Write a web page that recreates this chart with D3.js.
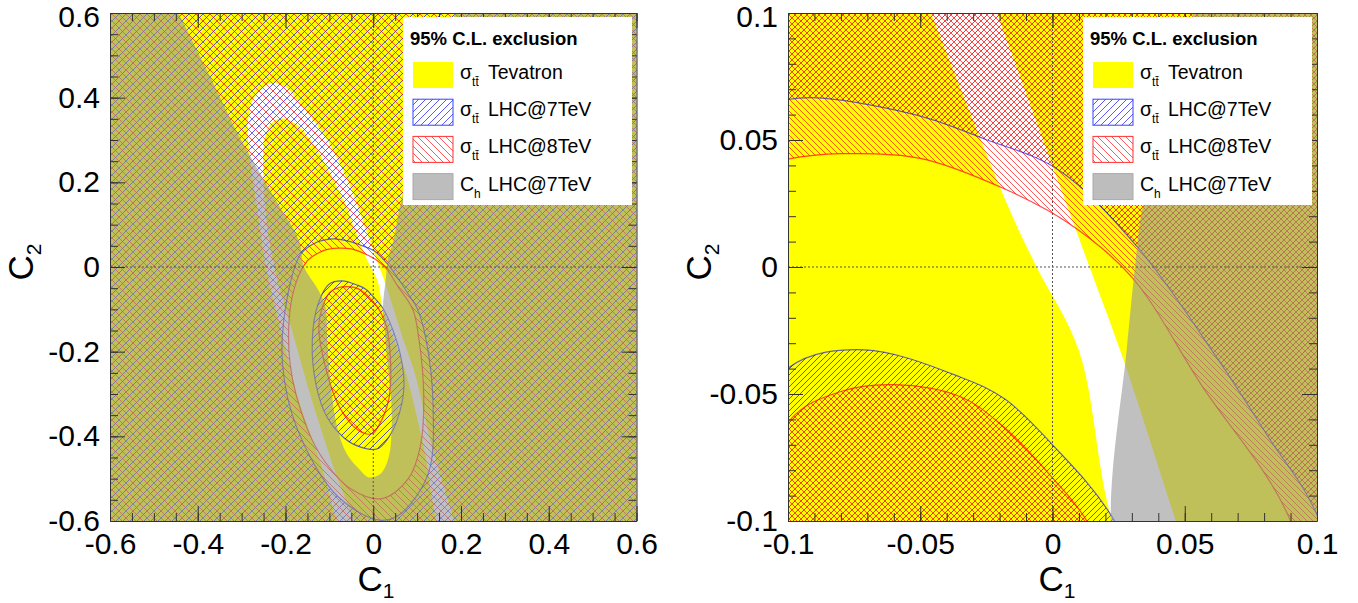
<!DOCTYPE html>
<html>
<head>
<meta charset="utf-8">
<script src="https://cdn.jsdelivr.net/npm/d3@7"></script>
<style>
body { margin: 0; background: #fff; }
text { font-family: "Liberation Sans", Arial, Helvetica, sans-serif; }
</style>
</head>
<body>
<svg id="chart" width="1358" height="603"></svg>
<script>
// ---- data (all points are [C1, C2]) ----

// axis ranges and ticks for the two panels
const domains = [[-0.6, 0.6], [-0.1, 0.1]];
const majorTicks = [[-0.6, -0.4, -0.2, 0, 0.2, 0.4, 0.6], [-0.1, -0.05, 0, 0.05, 0.1]];
const tickLabels = [["-0.6", "-0.4", "-0.2", "0", "0.2", "0.4", "0.6"], ["-0.1", "-0.05", "0", "0.05", "0.1"]];
const minorTicks = [d3.range(-12, 13).map(k => k * 0.05), d3.range(-10, 11).map(k => k * 0.01)];

// Tevatron allowed band (everything else is excluded -> yellow)
const tevatronBand = [
  [-0.056, -0.66], [-0.121, -0.46], [-0.173, -0.304], [-0.210, -0.150],
  [-0.241, -0.017], [-0.263, 0.126], [-0.282, 0.268], [-0.286, 0.339],
  [-0.272, 0.400], [-0.234, 0.434], [-0.200, 0.425], [-0.173, 0.394],
  [-0.105, 0.300], [-0.052, 0.189], [-0.021, 0.100], [0.014, 0.000],
  [0.026, -0.034], [0.046, -0.098], [0.068, -0.170], [0.095, -0.252],
  [0.130, -0.410], [0.189, -0.66],
  [0.165, -0.66], [0.112, -0.410], [0.074, -0.250], [0.045, -0.165],
  [0.022, -0.098], [0.010, -0.033], [-0.006, 0.000], [-0.016, 0.022],
  [-0.046, 0.100], [-0.067, 0.157], [-0.143, 0.300], [-0.180, 0.340],
  [-0.211, 0.351], [-0.236, 0.335], [-0.248, 0.300], [-0.245, 0.126],
  [-0.222, -0.017], [-0.185, -0.150], [-0.143, -0.304], [-0.095, -0.46],
  [-0.033, -0.66]
];

// C_h LHC@7TeV allowed region (everything else is excluded -> grey)
const chAllowed = [
  [-0.515, 0.75], [-0.444, 0.600], [-0.372, 0.450], [-0.301, 0.300],
  [-0.226, 0.165], [-0.169, 0.062], [-0.158, 0.001], [-0.125, -0.055],
  [-0.109, -0.094], [-0.105, -0.173], [-0.097, -0.276], [-0.082, -0.379],
  [-0.060, -0.442], [-0.029, -0.481], [-0.011, -0.497], [0.016, -0.489],
  [0.035, -0.450], [0.042, -0.379], [0.041, -0.316], [0.035, -0.252],
  [0.028, -0.173], [0.022, -0.098], [0.028, -0.033], [0.032, 0.008],
  [0.034, 0.023], [0.046, 0.062], [0.062, 0.148], [0.105, 0.300],
  [0.186, 0.600], [0.226, 0.75]
];

// sigma_tt LHC@7TeV: allowed ring between these two contours
const lhc7Outer = [
  [-0.130, 0.058], [-0.100, 0.066], [-0.087, 0.0665], [-0.050, 0.0594],
  [-0.026, 0.0505], [0.002, 0.0384], [0.032, 0.008], [0.062, -0.0355],
  [0.081, -0.066], [0.100, -0.0975], [0.120, -0.170], [0.1365, -0.331],
  [0.125, -0.489], [0.061, -0.584], [0.015, -0.598], [-0.082, -0.541],
  [-0.173, -0.383], [-0.207, -0.225], [-0.195, -0.067], [-0.165, 0.031]
];
const lhc7Inner = [
  [-0.0712, -0.0326], [-0.0347, -0.0434], [-0.018, -0.052], [0.000, -0.070],
  [0.022, -0.0975], [0.045, -0.150], [0.063, -0.213], [0.070, -0.284],
  [0.054, -0.363], [0.030, -0.410], [0.008, -0.430], [-0.030, -0.425],
  [-0.065, -0.405], [-0.105, -0.355], [-0.130, -0.280], [-0.139, -0.173],
  [-0.125, -0.085], [-0.0995, -0.0395]
];

// sigma_tt LHC@8TeV
const lhc8Outer = [
  [-0.115, 0.038], [-0.100, 0.0425], [-0.080, 0.0446], [-0.050, 0.0428],
  [-0.018, 0.0307], [0.0064, 0.017], [0.030, -0.004], [0.056, -0.046],
  [0.090, -0.100], [0.104, -0.170], [0.115, -0.300], [0.108, -0.420],
  [0.080, -0.500], [0.020, -0.547], [-0.050, -0.525], [-0.110, -0.460],
  [-0.150, -0.383], [-0.190, -0.225], [-0.184, -0.067], [-0.150, 0.015]
];
const lhc8Inner = [
  [-0.0599, -0.0463], [-0.035, -0.051], [-0.0196, -0.0619], [0.000, -0.083],
  [0.013, -0.100], [0.030, -0.140], [0.038, -0.197], [0.040, -0.260],
  [0.035, -0.315], [0.015, -0.370], [-0.003, -0.394], [-0.035, -0.385],
  [-0.075, -0.335], [-0.105, -0.252], [-0.124, -0.1335], [-0.0995, -0.0606],
  [-0.080, -0.049]
];

// legend
const legendTitle = "95% C.L. exclusion";
const legendSymbols = ["σ", "σ", "σ", "C"];
const legendSubs = ["tt\u0304", "tt\u0304", "tt\u0304", "h"];
const legendLabels = ["Tevatron", "LHC@7TeV", "LHC@8TeV", "LHC@7TeV"];

// ---- layout ----
const panels = [
  { left: 110, right: 636.5, top: 13, bottom: 521, legendX: 403, hatch: 7, titleX: 376 },
  { left: 788, right: 1317, top: 13, bottom: 521, legendX: 1083, hatch: 6, titleX: 1057 }
];

const svg = d3.select("#chart");
const defs = svg.append("defs");

// hatch patterns: dir 1 = "///", dir -1 = "\\\"
function makeHatch(id, color, dir, s) {
  let d;
  if (dir > 0) d = `M0,${s} L${s},0 M-1,1 L1,-1 M${s - 1},${s + 1} L${s + 1},${s - 1}`;
  else d = `M0,0 L${s},${s} M-1,${s - 1} L1,${s + 1} M${s - 1},-1 L${s + 1},1`;
  defs.append("pattern")
    .attr("id", id)
    .attr("patternUnits", "userSpaceOnUse")
    .attr("width", s)
    .attr("height", s)
    .append("path")
    .attr("d", d)
    .attr("stroke", color)
    .attr("stroke-opacity", 0.65)
    .attr("stroke-width", 1)
    .attr("fill", "none");
}

panels.forEach((p, i) => {
  makeHatch("blue" + i, "#0000ff", 1, p.hatch);
  makeHatch("red" + i, "#ff0000", -1, p.hatch);
});

panels.forEach((p, i) => {
  let x = d3.scaleLinear().domain(domains[i]).range([p.left, p.right]);
  let y = d3.scaleLinear().domain(domains[i]).range([p.bottom, p.top]);

  defs.append("clipPath").attr("id", "clip" + i)
    .append("rect")
    .attr("x", p.left).attr("y", p.top)
    .attr("width", p.right - p.left).attr("height", p.bottom - p.top);

  let g = svg.append("g").attr("clip-path", `url(#clip${i})`);

  let smooth = d3.line()
    .x(d => x(d[0]))
    .y(d => y(d[1]))
    .curve(d3.curveCatmullRomClosed.alpha(0.5));

  // big rectangle, used to fill "everything outside" a contour
  let big = `M${p.left - 60},${p.top - 60}H${p.right + 60}V${p.bottom + 60}H${p.left - 60}Z`;

  // Tevatron exclusion: yellow with the allowed band cut out
  g.append("rect")
    .attr("x", p.left).attr("y", p.top)
    .attr("width", p.right - p.left).attr("height", p.bottom - p.top)
    .attr("fill", "#ffff00");
  g.append("path").attr("d", smooth(tevatronBand)).attr("fill", "#fff");

  // LHC exclusions: outside the outer contour and inside the inner one
  g.append("path").attr("d", big + smooth(lhc7Outer))
    .attr("fill-rule", "evenodd").attr("fill", `url(#blue${i})`);
  g.append("path").attr("d", smooth(lhc7Inner)).attr("fill", `url(#blue${i})`);
  g.append("path").attr("d", big + smooth(lhc8Outer))
    .attr("fill-rule", "evenodd").attr("fill", `url(#red${i})`);
  g.append("path").attr("d", smooth(lhc8Inner)).attr("fill", `url(#red${i})`);

  [lhc7Outer, lhc7Inner].forEach(c => {
    g.append("path").attr("d", smooth(c)).attr("fill", "none")
      .attr("stroke", "#0000ff").attr("stroke-opacity", 0.6).attr("stroke-width", 1.2);
  });
  [lhc8Outer, lhc8Inner].forEach(c => {
    g.append("path").attr("d", smooth(c)).attr("fill", "none")
      .attr("stroke", "#ff0000").attr("stroke-opacity", 0.7).attr("stroke-width", 1.2);
  });

  // C_h exclusion drawn on top, semi transparent grey
  g.append("path").attr("d", big + smooth(chAllowed))
    .attr("fill-rule", "evenodd")
    .attr("fill", "#969696").attr("fill-opacity", 0.6);

  // dotted zero lines
  g.append("line")
    .attr("x1", x(0)).attr("x2", x(0)).attr("y1", p.top).attr("y2", p.bottom)
    .attr("stroke", "#555").attr("stroke-dasharray", "2,2");
  g.append("line")
    .attr("x1", p.left).attr("x2", p.right).attr("y1", y(0)).attr("y2", y(0))
    .attr("stroke", "#555").attr("stroke-dasharray", "2,2");

  // axes: ticks on all four sides, pointing inwards
  const fmt = (d, k) => tickLabels[i][k];
  const makeAxes = () => [
    [d3.axisBottom(x), `translate(0,${p.bottom})`],
    [d3.axisTop(x), `translate(0,${p.top})`],
    [d3.axisLeft(y), `translate(${p.left},0)`],
    [d3.axisRight(y), `translate(${p.right},0)`]
  ];

  // minor ticks
  makeAxes().forEach(([ax, tr]) => {
    svg.append("g").attr("transform", tr)
      .call(ax.tickValues(minorTicks[i]).tickSize(-8).tickSizeOuter(0).tickFormat(""))
      .attr("color", "#333")
      .select(".domain").remove();
  });

  // major ticks, frame and labels (labels only bottom and left)
  makeAxes().forEach(([ax, tr], k) => {
    let labelled = (k === 0 || k === 2);
    let ag = svg.append("g").attr("transform", tr)
      .call(ax.tickValues(majorTicks[i]).tickSize(-15).tickSizeOuter(0)
        .tickPadding(k === 0 ? 12 : 10)
        .tickFormat(labelled ? fmt : ""))
      .attr("color", "#333")
      .attr("font-size", 30)
      .attr("font-family", "Liberation Sans, Arial, sans-serif");
    ag.selectAll("text").attr("fill", "#000");
    // keep the topmost y label inside the picture
    if (k === 2) {
      ag.selectAll(".tick text").filter(d => d === domains[i][1]).attr("dy", "0.45em");
    }
  });

  // axis titles
  let tx = svg.append("text")
    .attr("x", p.titleX).attr("y", 591)
    .attr("text-anchor", "middle")
    .attr("font-size", 35);
  tx.append("tspan").text("C");
  tx.append("tspan").attr("font-size", 21).attr("dy", 7).text("1");

  let ty = svg.append("text")
    .attr("transform", `translate(${p.left - 77},262) rotate(-90)`)
    .attr("text-anchor", "middle")
    .attr("font-size", 35);
  ty.append("tspan").text("C");
  ty.append("tspan").attr("font-size", 21).attr("dy", 8).text("2");

  // legend
  let lg = svg.append("g").attr("transform", `translate(${p.legendX},17)`);
  lg.append("rect").attr("width", 229).attr("height", 188).attr("fill", "#fff");
  lg.append("text")
    .attr("x", 7).attr("y", 28)
    .attr("font-weight", "bold").attr("font-size", 18.5)
    .text(legendTitle);

  const boxFill = ["#ffff00", `url(#blue0)`, `url(#red0)`, "#bdbdbd"];
  const boxStroke = ["none", "#3344ff", "#ff3333", "#aaaaaa"];
  legendLabels.forEach((lab, k) => {
    let cy = 58 + k * 37.2;
    lg.append("rect")
      .attr("x", 10).attr("y", cy - 13)
      .attr("width", 40).attr("height", 26)
      .attr("fill", boxFill[k])
      .attr("stroke", boxStroke[k]);
    let t = lg.append("text").attr("x", 57).attr("y", cy + 4).attr("font-size", 19.5);
    t.append("tspan").text(legendSymbols[k]);
    t.append("tspan").attr("font-size", 12).attr("dy", 7).text(legendSubs[k]);
    t.append("tspan").attr("x", 85).attr("dy", -7).text(lab);
  });
});
</script>
</body>
</html>
